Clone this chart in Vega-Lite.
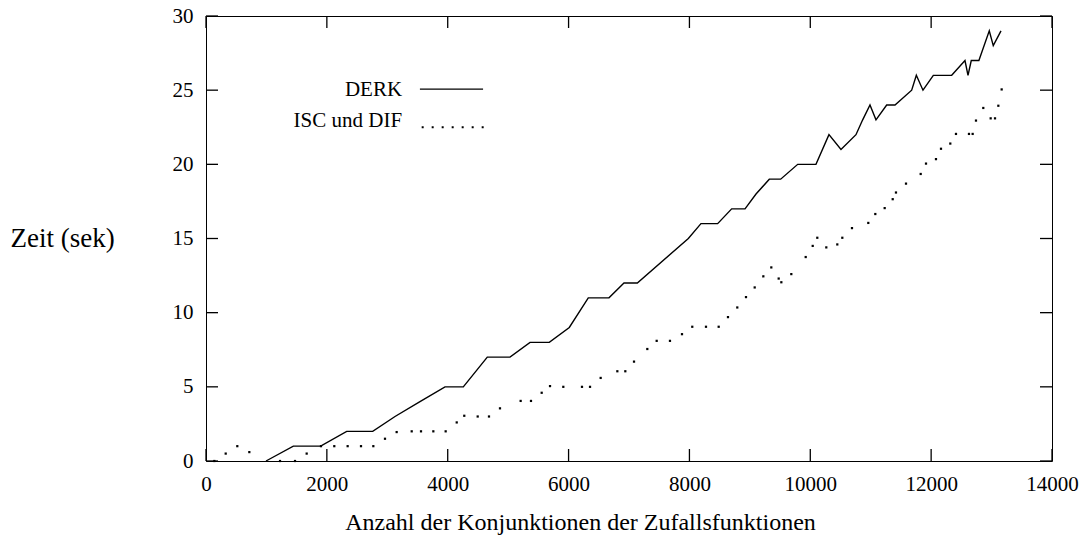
{
  "$schema": "https://vega.github.io/schema/vega-lite/v6.json",
  "width": 846,
  "height": 445,
  "autosize": {"type": "none"},
  "padding": {"left": 206, "top": 16, "right": 35, "bottom": 80},
  "background": "white",
  "config": {
    "view": {"stroke": "black", "strokeWidth": 1},
    "font": "Liberation Serif",
    "axis": {
      "grid": false,
      "domain": false,
      "ticks": false,
      "labelColor": "black",
      "titleColor": "black",
      "labelFont": "Liberation Serif",
      "titleFont": "Liberation Serif",
      "labelFontSize": 21,
      "titleFontSize": 24,
      "titleFontWeight": "normal"
    }
  },
  "datasets": {
    "xticks": [{"v": 0}, {"v": 2000}, {"v": 4000}, {"v": 6000}, {"v": 8000}, {"v": 10000}, {"v": 12000}, {"v": 14000}],
    "yticks": [{"v": 0}, {"v": 5}, {"v": 10}, {"v": 15}, {"v": 20}, {"v": 25}, {"v": 30}],
    "derk": [
      {"n": 993, "t": 0}, {"n": 1445, "t": 1}, {"n": 1898, "t": 1}, {"n": 2328, "t": 2},
      {"n": 2759, "t": 2}, {"n": 3128, "t": 3}, {"n": 3541, "t": 4}, {"n": 3955, "t": 5},
      {"n": 4258, "t": 5}, {"n": 4655, "t": 7}, {"n": 5031, "t": 7}, {"n": 5362, "t": 8},
      {"n": 5681, "t": 8}, {"n": 6012, "t": 9}, {"n": 6326, "t": 11}, {"n": 6669, "t": 11},
      {"n": 6917, "t": 12}, {"n": 7138, "t": 12}, {"n": 7982, "t": 15}, {"n": 8191, "t": 16},
      {"n": 8467, "t": 16}, {"n": 8699, "t": 17}, {"n": 8920, "t": 17}, {"n": 9102, "t": 18},
      {"n": 9322, "t": 19}, {"n": 9510, "t": 19}, {"n": 9792, "t": 20}, {"n": 10094, "t": 20},
      {"n": 10309, "t": 22}, {"n": 10508, "t": 21}, {"n": 10756, "t": 22}, {"n": 10867, "t": 23},
      {"n": 10988, "t": 24}, {"n": 11087, "t": 23}, {"n": 11264, "t": 24}, {"n": 11402, "t": 24},
      {"n": 11678, "t": 25}, {"n": 11755, "t": 26}, {"n": 11865, "t": 25}, {"n": 12036, "t": 26},
      {"n": 12340, "t": 26}, {"n": 12560, "t": 27}, {"n": 12610, "t": 26}, {"n": 12664, "t": 27},
      {"n": 12790, "t": 27}, {"n": 12962, "t": 29}, {"n": 13028, "t": 28}, {"n": 13156, "t": 29}
    ],
    "isc": [
      {"n": 138, "t": 0}, {"n": 326, "t": 0.5}, {"n": 518, "t": 1}, {"n": 717, "t": 0.6},
      {"n": 1225, "t": 0}, {"n": 1473, "t": 0}, {"n": 1666, "t": 0.5}, {"n": 1903, "t": 1},
      {"n": 2123, "t": 1}, {"n": 2344, "t": 1}, {"n": 2565, "t": 1}, {"n": 2769, "t": 1},
      {"n": 2962, "t": 1.5}, {"n": 3155, "t": 1.95}, {"n": 3404, "t": 2}, {"n": 3558, "t": 2},
      {"n": 3762, "t": 2}, {"n": 3966, "t": 2}, {"n": 4149, "t": 2.6}, {"n": 4274, "t": 3.05},
      {"n": 4496, "t": 3}, {"n": 4683, "t": 3}, {"n": 4865, "t": 3.55}, {"n": 5207, "t": 4.05},
      {"n": 5378, "t": 4.05}, {"n": 5555, "t": 4.6}, {"n": 5693, "t": 5.05}, {"n": 5913, "t": 5},
      {"n": 6222, "t": 5}, {"n": 6355, "t": 5}, {"n": 6531, "t": 5.6}, {"n": 6807, "t": 6.05},
      {"n": 6939, "t": 6.05}, {"n": 7083, "t": 6.7}, {"n": 7303, "t": 7.55}, {"n": 7458, "t": 8.1},
      {"n": 7678, "t": 8.1}, {"n": 7877, "t": 8.55}, {"n": 8047, "t": 9.05}, {"n": 8274, "t": 9.05},
      {"n": 8484, "t": 9.05}, {"n": 8638, "t": 9.7}, {"n": 8792, "t": 10.35}, {"n": 8936, "t": 11.05},
      {"n": 9080, "t": 11.7}, {"n": 9223, "t": 12.45}, {"n": 9355, "t": 13.05}, {"n": 9477, "t": 12.3},
      {"n": 9521, "t": 12.05}, {"n": 9686, "t": 12.6}, {"n": 9924, "t": 13.75}, {"n": 10040, "t": 14.5},
      {"n": 10116, "t": 15.05}, {"n": 10265, "t": 14.4}, {"n": 10447, "t": 14.6}, {"n": 10530, "t": 15.05},
      {"n": 10690, "t": 15.7}, {"n": 10960, "t": 16.05}, {"n": 11076, "t": 16.65}, {"n": 11231, "t": 17.05},
      {"n": 11364, "t": 17.65}, {"n": 11418, "t": 18.1}, {"n": 11584, "t": 18.7}, {"n": 11827, "t": 19.35},
      {"n": 11915, "t": 20.05}, {"n": 12080, "t": 20.35}, {"n": 12163, "t": 21.05}, {"n": 12317, "t": 21.4},
      {"n": 12411, "t": 22.05}, {"n": 12626, "t": 22.05}, {"n": 12687, "t": 22.05}, {"n": 12742, "t": 22.95},
      {"n": 12863, "t": 23.8}, {"n": 12985, "t": 23.1}, {"n": 13057, "t": 23.1}, {"n": 13112, "t": 23.95},
      {"n": 13167, "t": 25.05}
    ]
  },
  "layer": [
    {
      "data": {"name": "derk"},
      "mark": {"type": "line", "color": "black", "strokeWidth": 1.4},
      "encoding": {
        "x": {
          "field": "n", "type": "quantitative",
          "scale": {"domain": [0, 14000], "nice": false},
          "axis": {
            "orient": "bottom",
            "values": [0, 2000, 4000, 6000, 8000, 10000, 12000, 14000],
            "format": "d",
            "labelFlush": false,
            "labelOverlap": false,
            "labelPadding": 12,
            "labelBaseline": "top",
            "title": "Anzahl der Konjunktionen der Zufallsfunktionen",
            "titleX": 374,
            "titleY": 68,
            "titleAlign": "center",
            "titleBaseline": "alphabetic",
            "titleAnchor": null
          }
        },
        "y": {
          "field": "t", "type": "quantitative",
          "scale": {"domain": [0, 30], "nice": false},
          "axis": {
            "orient": "left",
            "values": [0, 5, 10, 15, 20, 25, 30],
            "format": "d",
            "labelFlush": false,
            "labelOverlap": false,
            "labelPadding": 13,
            "title": "Zeit (sek)",
            "titleFontSize": 27,
            "titleAngle": 0,
            "titleAlign": "left",
            "titleBaseline": "middle",
            "titleX": -196,
            "titleY": 222
          }
        }
      }
    },
    {
      "data": {"name": "isc"},
      "mark": {"type": "point", "shape": "square", "filled": true, "color": "black", "size": 5, "strokeWidth": 0, "opacity": 1},
      "encoding": {
        "x": {"field": "n", "type": "quantitative"},
        "y": {"field": "t", "type": "quantitative"}
      }
    },
    {
      "data": {"name": "xticks"},
      "layer": [
        {
          "mark": {"type": "rule", "color": "black", "strokeWidth": 1.3, "opacity": 1},
          "encoding": {"x": {"field": "v", "type": "quantitative"}, "y": {"datum": 0}, "y2": {"datum": 0.81}}
        },
        {
          "mark": {"type": "rule", "color": "black", "strokeWidth": 1.3, "opacity": 1},
          "encoding": {"x": {"field": "v", "type": "quantitative"}, "y": {"datum": 30}, "y2": {"datum": 29.19}}
        }
      ]
    },
    {
      "data": {"name": "yticks"},
      "layer": [
        {
          "mark": {"type": "rule", "color": "black", "strokeWidth": 1.3, "opacity": 1},
          "encoding": {"y": {"field": "v", "type": "quantitative"}, "x": {"datum": 0}, "x2": {"datum": 199}}
        },
        {
          "mark": {"type": "rule", "color": "black", "strokeWidth": 1.3, "opacity": 1},
          "encoding": {"y": {"field": "v", "type": "quantitative"}, "x": {"datum": 14000}, "x2": {"datum": 13801}}
        }
      ]
    },
    {
      "data": {"values": [{"label": "DERK"}]},
      "layer": [
        {
          "mark": {"type": "text", "align": "right", "baseline": "middle", "fontSize": 21, "color": "black", "font": "Liberation Serif"},
          "encoding": {"text": {"field": "label"}, "x": {"datum": 3245}, "y": {"datum": 25.0}}
        },
        {
          "mark": {"type": "rule", "color": "black", "strokeWidth": 1.4},
          "encoding": {"x": {"datum": 3540}, "x2": {"datum": 4585}, "y": {"datum": 25.07}}
        }
      ]
    },
    {
      "data": {"values": [{"label": "ISC und DIF"}]},
      "layer": [
        {
          "mark": {"type": "text", "align": "right", "baseline": "middle", "fontSize": 21, "color": "black", "font": "Liberation Serif"},
          "encoding": {"text": {"field": "label"}, "x": {"datum": 3245}, "y": {"datum": 22.95}}
        },
        {
          "mark": {"type": "rule", "color": "black", "strokeWidth": 2, "strokeDash": [2, 8], "strokeCap": "butt"},
          "encoding": {"x": {"datum": 3569}, "x2": {"datum": 4596}, "y": {"datum": 22.5}}
        }
      ]
    }
  ]
}
